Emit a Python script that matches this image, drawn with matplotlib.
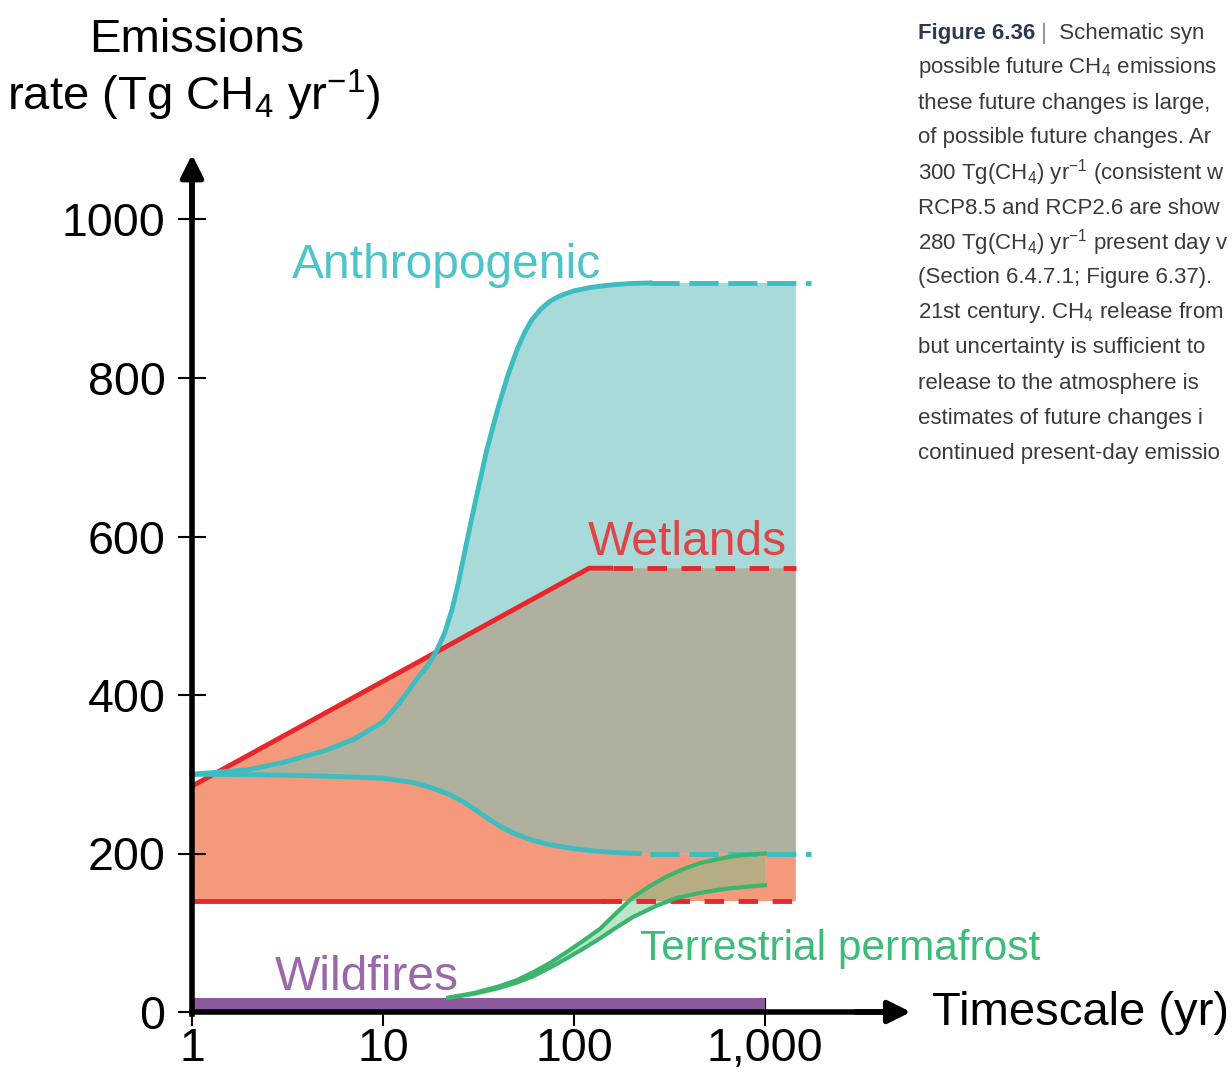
import matplotlib
matplotlib.use('Agg')
import matplotlib.pyplot as plt

plt.rcParams['font.family'] = ['Liberation Sans', 'DejaVu Sans']
plt.rcParams['mathtext.default'] = 'regular'

# ---- values (x = timescale in years, y = Tg CH4 / yr) ----
anth_up_x = [1, 2, 3, 5, 7, 10, 12, 15, 17, 19, 21, 23, 25, 27, 30, 35, 40, 45, 50, 55, 60, 67, 75, 85,
             100, 120, 150, 190, 250]
anth_up_y = [300, 306, 315, 330, 344, 366, 388, 420, 436, 455, 478, 508, 545, 585, 637, 710, 762, 803, 834,
             857, 873, 887, 897, 904, 910, 914, 917, 919, 920]
anth_lo_x = [1, 3, 6, 10, 14, 18, 22, 26, 31, 36, 42, 48, 60, 75, 100, 130, 170, 220]
anth_lo_y = [300, 299, 297, 295, 290, 283, 275, 266, 254, 243, 233, 226, 217, 211, 206, 203, 201, 200]
anth_dash_x = [250, 1750]
anth_up_end = 920
anth_lo_end = 200

wet_up_x = [1, 120, 160]
wet_up_y = [285, 560, 560]
wet_dash_x = [160, 1450]
wet_up_end = 560
wet_lo = 140
wet_lo_solid_x = [1, 140]
wet_lo_dash_x = [140, 1450]
fill_end_x = 1450

perm_up_x = [22, 30, 40, 50, 61, 75, 92, 112, 137, 165, 204, 250, 300, 370, 457, 570, 700, 850, 1000]
perm_up_y = [18, 24, 32, 40, 50, 62, 76, 90, 105, 124, 145, 159, 170, 180, 188, 193, 197, 199, 200]
perm_lo_x = [22, 30, 40, 50, 61, 75, 92, 112, 137, 165, 204, 270, 345, 450, 600, 800, 1000]
perm_lo_y = [18, 23, 30, 37, 45, 56, 68, 80, 93, 106, 120, 134, 144, 150, 155, 158, 160]

fire_x = [1, 1000]
fire_y = [18, 18]

yticks = [0, 200, 400, 600, 800, 1000]
xticks = [1, 10, 100, 1000]
xticklabels = ['1', '10', '100', '1,000']

caption = [
    'possible future CH$_4$ emissions',
    'these future changes is large,',
    'of possible future changes. Ar',
    '300 Tg(CH$_4$) yr$^{-1}$ (consistent w',
    'RCP8.5 and RCP2.6 are show',
    '280 Tg(CH$_4$) yr$^{-1}$ present day v',
    '(Section 6.4.7.1; Figure 6.37).',
    '21st century. CH$_4$ release from',
    'but uncertainty is sufficient to',
    'release to the atmosphere is',
    'estimates of future changes i',
    'continued present-day emissio',
]

# colours
salmon = '#f4997c'
teal_fill = '#a8dad9'
grey = '#afb09d'
red = '#e8272c'
teal = '#3dbdbf'
green = '#3bb56e'
purple = '#8c5a9c'

W, H = 1232, 1088
fig = plt.figure(figsize=(W / 100, H / 100), dpi=100)
ax = fig.add_axes([0, 0, 1, 1])
ax.set_facecolor('none')
ax.set_xscale('log')
# pixel layout: x=1 at px 192, one decade = 191 px; y=0 at px 1012, 0.7925 px per unit
ax.set_xlim(10 ** (-192 / 191), 10 ** ((W - 192) / 191))
ax.set_ylim((1012 - H) / 0.7925, 1012 / 0.7925)

# wetlands band
sal = ax.fill(wet_up_x + [fill_end_x, fill_end_x, 1], wet_up_y + [wet_up_end, wet_lo, wet_lo],
              color=salmon, lw=0, zorder=1)[0]

# anthropogenic band, grey where it overlaps the wetlands band
poly_x = anth_up_x + [fill_end_x, fill_end_x] + anth_lo_x[::-1]
poly_y = anth_up_y + [anth_up_end, anth_lo_end] + anth_lo_y[::-1]
ax.fill(poly_x, poly_y, color=teal_fill, lw=0, zorder=1)
gr = ax.fill(poly_x, poly_y, color=grey, lw=0, zorder=2)[0]
gr.set_clip_path(sal)

# permafrost band
ax.fill(perm_up_x + perm_lo_x[::-1], perm_up_y + perm_lo_y[::-1],
        color='#6cc98a', alpha=0.45, lw=0, zorder=3)

# wildfires
ax.fill_between(fire_x, 0, fire_y, color=purple, lw=0, zorder=3)

# lines
ax.plot(wet_up_x, wet_up_y, color=red, lw=3.5, zorder=4, solid_capstyle='butt')
ax.plot(wet_dash_x, [wet_up_end] * 2, color=red, lw=3.5, ls=(0, (4, 3)), zorder=4)
ax.plot(wet_lo_solid_x, [wet_lo] * 2, color=red, lw=3.5, zorder=4)
ax.plot(wet_lo_dash_x, [wet_lo] * 2, color=red, lw=3.5, ls=(0, (4, 3)), zorder=4)

ax.plot(anth_up_x, anth_up_y, color=teal, lw=3.5, zorder=5)
ax.plot(anth_lo_x, anth_lo_y, color=teal, lw=3.5, zorder=5)
ax.plot(anth_dash_x, [anth_up_end] * 2, color=teal, lw=3.5, ls=(0, (6, 2)), zorder=5)
ax.plot(anth_dash_x, [anth_lo_end] * 2, color=teal, lw=3.5, ls=(0, (6, 2)), zorder=5)

ax.plot(perm_up_x, perm_up_y, color=green, lw=3, zorder=6)
ax.plot(perm_lo_x, perm_lo_y, color=green, lw=3, zorder=6)

# axes drawn as arrows
for s in ['top', 'right']:
    ax.spines[s].set_visible(False)
ax.spines['left'].set_position(('data', 1))
ax.spines['bottom'].set_position(('data', 0))
ax.spines['left'].set_bounds(-3, 1060)
ax.spines['bottom'].set_bounds(1, 5000)
for s in ['left', 'bottom']:
    ax.spines[s].set_linewidth(4)
    ax.spines[s].set_zorder(7)
arrow = dict(arrowstyle='-|>', color='k', lw=4, mutation_scale=34, shrinkA=0, shrinkB=0)
ax.annotate('', xy=(1, 1082), xytext=(1, 1000), arrowprops=arrow, zorder=7)
ax.annotate('', xy=(5800, 0), xytext=(3000, 0), arrowprops=arrow, zorder=7)

ax.set_yticks(yticks)
ax.set_xticks(xticks)
ax.set_xticklabels(xticklabels)
ax.xaxis.set_minor_locator(matplotlib.ticker.NullLocator())
ax.tick_params(axis='both', direction='inout', length=20, width=1.5, labelsize=33.5, color='k')
ax.tick_params(axis='y', pad=9)
ax.tick_params(axis='x', pad=1)

# series labels
ax.text(3.34, 926, 'Anthropogenic', color='#4cc4c8', fontsize=34.5)
ax.text(118, 577, 'Wetlands', color='#e04545', fontsize=34.5)
ax.text(222, 66, 'Terrestrial permafrost', color='#3dbb78', fontsize=30.5)
ax.text(2.72, 28, 'Wildfires', color='#9a68a8', fontsize=34.5)

fig.text(932 / W, 1 - 1025 / H, 'Timescale (yr)', fontsize=34, va='baseline')
fig.text(197 / W, 1 - 52 / H, 'Emissions', fontsize=34, ha='center', va='baseline')
fig.text(194 / W, 1 - 110 / H, 'rate (Tg CH$_4$ yr$^{-1}$)', fontsize=34, ha='center', va='baseline')

# caption block (the source crops it at the right edge)
cfs = 16
x0 = 918 / W
step = 35
t1 = fig.text(x0, 1 - 33 / H, 'Figure 6.36', fontsize=cfs, weight='bold',
              color='#2a3850', va='center')
a1 = ax.annotate(' |', xy=(1, 0), xycoords=t1, fontsize=cfs, color='#8a8a8a',
                 va='bottom', annotation_clip=False)
ax.annotate('  Schematic syn', xy=(1, 0), xycoords=a1, fontsize=cfs,
            color='#3a3a3a', va='bottom', annotation_clip=False)
for i, line in enumerate(caption):
    fig.text(x0, 1 - (33 + step * (i + 1)) / H, line, fontsize=cfs,
             color='#3a3a3a', va='center')

fig.savefig('out.png', dpi=100)
